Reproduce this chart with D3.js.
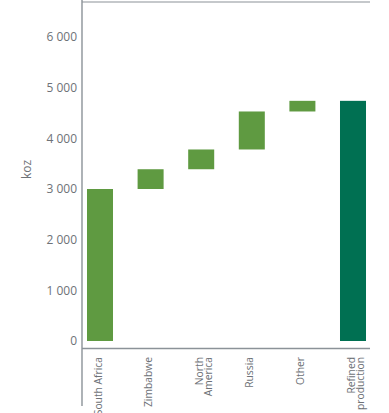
<!DOCTYPE html>
<html>
<head>
<meta charset="utf-8">
<script src="https://cdn.jsdelivr.net/npm/d3@7"></script>
<style>
  html, body { margin: 0; padding: 0; background: #ffffff; }
  svg { display: block; }
</style>
</head>
<body>
<div id="chart"></div>
<script>
// Platinum supply build-up to refined production (koz)
const categories = ["South Africa", "Zimbabwe", "North America", "Russia", "Other", "Refined production"];
const categoryLines = [["South Africa"], ["Zimbabwe"], ["North", "America"], ["Russia"], ["Other"], ["Refined", "production"]];
const contributions = [3000, 390, 390, 750, 210];   // per-region supply
const totalValue = 4740;                              // refined production total
const yTicks = [0, 1000, 2000, 3000, 4000, 5000, 6000];
const yTitle = "koz";

const W = 389, H = 413;
const svg = d3.select("#chart").append("svg")
  .attr("width", W).attr("height", H);

const axisColor = "#8b9298";
const textColor = "#6e7277";
const barGreen = "#5f9a41";
const totalGreen = "#007052";
const font = "'Open Sans', sans-serif";

// Waterfall segments: each region floats on the running total, last bar is the total
let running = 0;
const bars = contributions.map((v, i) => {
  const d = { cat: categories[i], y0: running, y1: running + v, total: false };
  running += v;
  return d;
});
bars.push({ cat: categories[categories.length - 1], y0: 0, y1: totalValue, total: true });

const x = d3.scaleBand()
  .domain(categories)
  .range([74.7, 378.3])
  .paddingInner(0.486)
  .paddingOuter(0.243);

const y = d3.scaleLinear().domain([0, 6000]).range([341, 37]);

const axisLeft = 82, axisRight = 370, axisBottom = 348.5, axisTop = 2;

// frame lines
svg.append("line")
  .attr("x1", axisLeft).attr("x2", axisLeft)
  .attr("y1", 0).attr("y2", 406)
  .attr("stroke", axisColor).attr("stroke-width", 1.4);
svg.append("line")
  .attr("x1", axisLeft).attr("x2", axisRight)
  .attr("y1", axisTop).attr("y2", axisTop)
  .attr("stroke", axisColor).attr("stroke-width", 1.2);
svg.append("line")
  .attr("x1", axisLeft).attr("x2", axisRight)
  .attr("y1", axisBottom).attr("y2", axisBottom)
  .attr("stroke", axisColor).attr("stroke-width", 1.3);

// y tick labels with space as thousands separator
const locale = d3.formatLocale({ decimal: ",", thousands: "\u00a0", grouping: [3], currency: ["", ""] });
const fmt = locale.format(",d");
const yAxis = d3.axisLeft(y).tickValues(yTicks).tickFormat(fmt).tickSize(0).tickPadding(0);
const gy = svg.append("g").attr("transform", `translate(77,0)`).call(yAxis);
gy.select(".domain").remove();
gy.selectAll("text")
  .attr("fill", textColor)
  .style("font-family", font)
  .style("font-size", "12px");

// y axis title
svg.append("text")
  .attr("transform", `translate(31,169.5) rotate(-90)`)
  .attr("text-anchor", "middle")
  .attr("fill", textColor)
  .style("font-family", font)
  .style("font-size", "12px")
  .text(yTitle);

// bars
svg.append("g").selectAll("rect")
  .data(bars)
  .join("rect")
  .attr("x", d => x(d.cat))
  .attr("width", x.bandwidth())
  .attr("y", d => y(d.y1))
  .attr("height", d => y(d.y0) - y(d.y1))
  .attr("fill", d => d.total ? totalGreen : barGreen);

// category labels, rotated to read bottom-to-top
const labels = svg.append("g").selectAll("text")
  .data(categories)
  .join("text")
  .attr("transform", d => `translate(${x(d) + x.bandwidth() / 2 + 1.5},357) rotate(-90)`)
  .attr("text-anchor", "end")
  .attr("fill", textColor)
  .style("font-family", font)
  .style("font-size", "10.3px");
labels.each(function (d, i) {
  d3.select(this).selectAll("tspan")
    .data(categoryLines[i])
    .join("tspan")
    .attr("x", 0)
    .attr("dy", (t, j) => j === 0 ? 0 : 9.4)
    .text(t => t);
});
</script>
</body>
</html>
